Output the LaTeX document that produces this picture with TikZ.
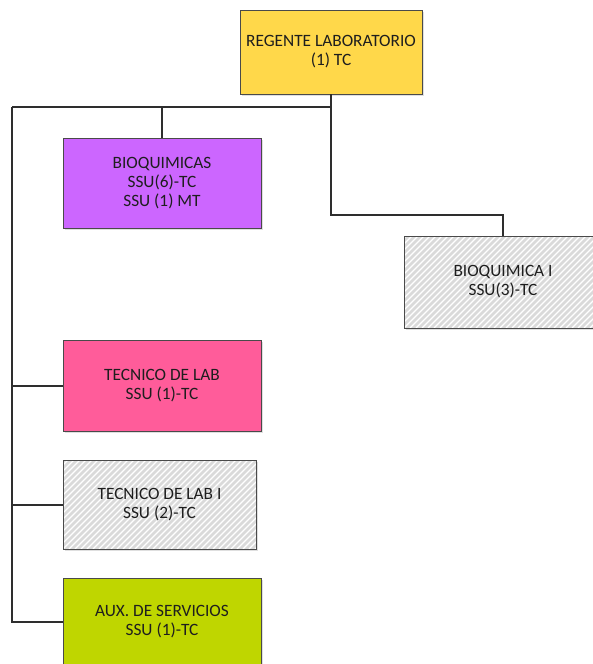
\documentclass[tikz,border=0pt]{standalone}
\usepackage{fontspec}
\setmainfont{Carlito}
\usetikzlibrary{shadows}
\definecolor{cYellow}{HTML}{FFD84A}
\definecolor{cPurple}{HTML}{CC66FF}
\definecolor{cPink}{HTML}{FF5C9A}
\definecolor{cLime}{HTML}{BFD600}
\definecolor{cHatch}{HTML}{DADADA}
\definecolor{cBorder}{HTML}{4A4A4A}
\definecolor{cLine}{HTML}{2E2E2E}
\definecolor{cText}{HTML}{1E1E1E}
\begin{document}
\begin{tikzpicture}[x=1pt,y=-1pt,
  orgbox/.style={draw=cBorder, line width=0.8pt, align=center, inner sep=0pt,
    text=cText, font=\fontsize{17.3}{19}\selectfont,
    drop shadow={shadow xshift=1.5pt, shadow yshift=-1.5pt, opacity=0.25}},
  hatched/.style={orgbox, fill=cHatch,
    path picture={
      \foreach \i in {0,...,60}
        \draw[white, line width=1.1pt]
          ([xshift=\i*6pt-120pt]path picture bounding box.south west) -- ++(160,-160);
    }},
  conn/.style={draw=cLine, line width=2pt}]
\useasboundingbox (0,0) rectangle (592,664);

\node[orgbox, fill=cYellow, minimum width=182pt, minimum height=84pt] (top) at (331,52) {REGENTE LABORATORIO\\(1) TC};
\node[orgbox, fill=cPurple, minimum width=198pt, minimum height=90pt] (bioq) at (162,183) {BIOQUIMICAS\\SSU(6)-TC\\SSU (1) MT};
\node[hatched, minimum width=198pt, minimum height=92pt] (bioI) at (503,282) {BIOQUIMICA I\\SSU(3)-TC};
\node[orgbox, fill=cPink, minimum width=198pt, minimum height=91pt] (tec) at (162,385.5) {TECNICO DE LAB\\SSU (1)-TC};
\node[hatched, minimum width=193pt, minimum height=89pt] (tecI) at (159.5,504.5) {TECNICO DE LAB I\\SSU (2)-TC};
\node[orgbox, fill=cLime, minimum width=198pt, minimum height=88pt] (aux) at (162,622) {AUX. DE SERVICIOS\\SSU (1)-TC};

\coordinate (jl) at (12,107);
\coordinate (jr) at (331,215);

\draw[conn] (top.south) -- (top.south |- jr) -| (bioI.north);
\draw[conn] (jl) -- (top.south |- jl);
\draw[conn] (bioq.north) -- (bioq.north |- jl);
\draw[conn] (jl) -- (jl |- aux.west) -- (aux.west);
\draw[conn] (jl |- tec.west) -- (tec.west);
\draw[conn] (jl |- tecI.west) -- (tecI.west);
\end{tikzpicture}
\end{document}
